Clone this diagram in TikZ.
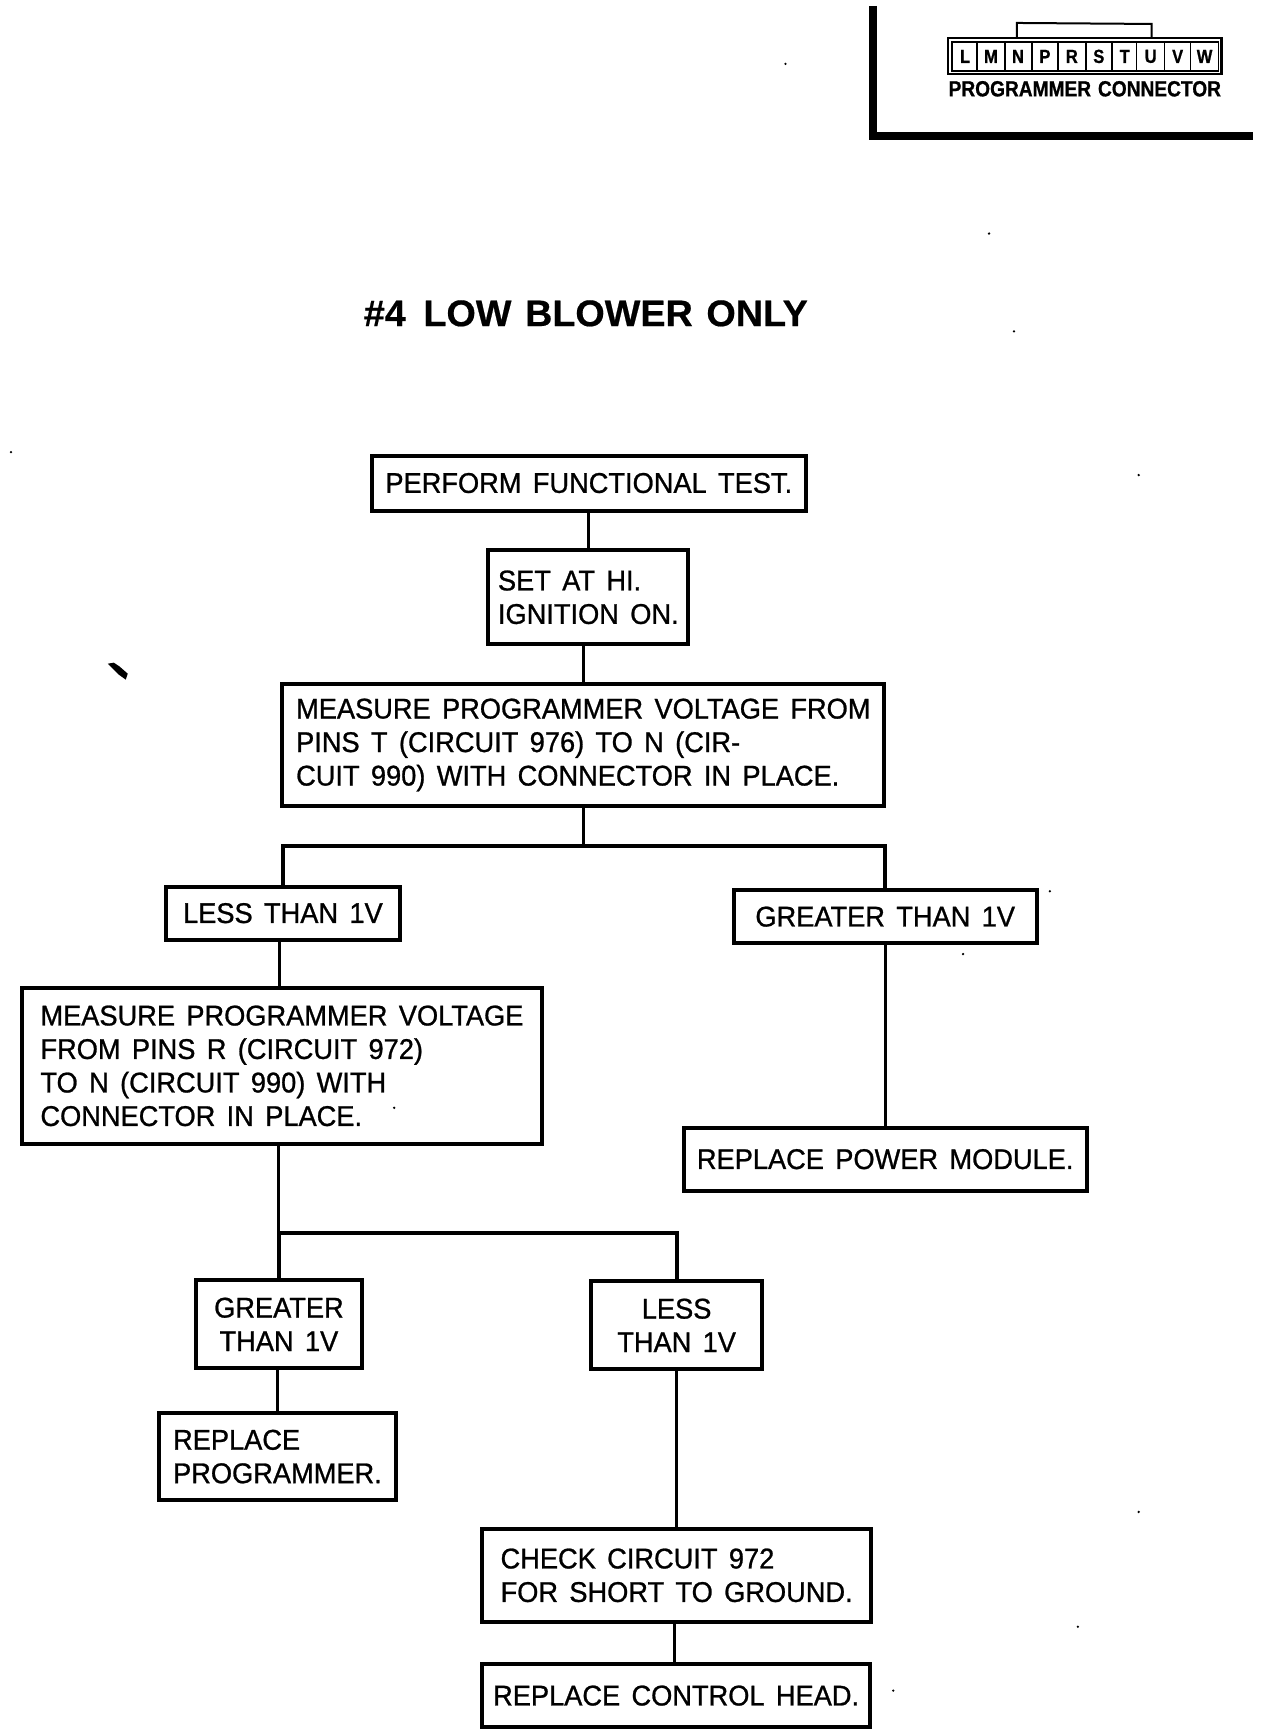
\documentclass[tikz,border=0pt]{standalone}
\usepackage{fontspec}
\setmainfont{Liberation Sans}
\newfontfamily\flowfont[FakeBold=0.9,FakeStretch=0.955,WordSpace=1.5]{Liberation Sans}
\newfontfamily\capfont[FakeBold=0.8,FakeStretch=0.87,WordSpace=1.3]{Liberation Sans Bold}
\newfontfamily\titlefont[FakeBold=0.5,FakeStretch=1.02,WordSpace=1.3]{Liberation Sans Bold}
\begin{document}
\begin{tikzpicture}[x=0.998pt,y=-0.998pt,
  flow/.style={draw=black,line width=4pt,inner sep=0pt,outer sep=0pt,align=left,font=\flowfont\fontsize{28.5}{33.5}\selectfont},
  wire/.style={draw=black,line width=3pt},
  bus/.style={draw=black,line width=4pt},
  thick rule/.style={draw=black,line width=8pt},
  pin/.style={font=\capfont\fontsize{19}{19}\selectfont,inner sep=0pt},
  speck/.style={fill=black,draw=none}]
\useasboundingbox (0,0) rectangle (1266.5,1739.5);
\fill[white] (0,0) rectangle (1266.5,1739.5);
% corner rules
\draw[thick rule] (875,6) -- (875,136.5) -- (1255.5,136.5);
% connector
\draw[draw=black,line width=2.5pt] (950,38) rectangle (1224,74);
\draw[draw=black,line width=1.5pt] (954,42) rectangle (1221,71);
\foreach \p in {979,1007,1034,1060,1088,1114,1139,1167,1193}
  \draw[draw=black,line width=1.5pt] (\p,42) -- (\p,71);
\draw[draw=black,line width=2pt] (1019,37) -- (1019,23) -- (1154,24) -- (1154,37);
\foreach \nm/\cx/\t in {l/967/L,m/993/M,n/1020/N,p/1047/P,r/1074/R,s/1101/S,t/1127/T,u/1153/U,v/1180/V,w/1207/W}
  \node[pin] (pin\nm) at (\cx,56.5) {\t};
\node[font=\capfont\fontsize{22}{22}\selectfont,inner sep=0pt] (cap) at (1087,89) {PROGRAMMER CONNECTOR};
% title
\node[font=\titlefont\fontsize{37}{37}\selectfont,inner sep=0pt] (title) at (587,314) {\#4\hspace{4pt} LOW BLOWER ONLY};
% boxes
\node[flow,minimum width=434pt,minimum height=55pt] (b1) at (590,484) {PERFORM FUNCTIONAL TEST.};
\node[flow,minimum width=200pt,minimum height=94pt] (b2) at (589.5,598.5) {SET AT HI.\\IGNITION ON.};
\node[flow,minimum width=602pt,minimum height=122pt] (b3) at (584.5,746.5) {MEASURE PROGRAMMER VOLTAGE FROM\\PINS T (CIRCUIT 976) TO N (CIR-\hspace{105pt}\mbox{}\\CUIT 990) WITH CONNECTOR IN PLACE.};
\node[flow,minimum width=234pt,minimum height=53pt] (b4) at (283.5,915) {LESS THAN 1V};
\node[flow,minimum width=303pt,minimum height=53pt] (b5) at (887,918.5) {GREATER THAN 1V};
\node[flow,minimum width=520pt,minimum height=156pt] (b6) at (282.5,1068) {MEASURE PROGRAMMER VOLTAGE\\FROM PINS R (CIRCUIT 972)\\TO N (CIRCUIT 990) WITH\\CONNECTOR IN PLACE.};
\node[flow,minimum width=403pt,minimum height=63pt] (b7) at (887,1161.5) {REPLACE POWER MODULE.};
\node[flow,minimum width=166pt,minimum height=88pt,align=center] (b8) at (279.5,1327) {GREATER\\THAN 1V};
\node[flow,minimum width=171pt,minimum height=88pt,align=center] (b9) at (678,1328) {LESS\\THAN 1V};
\node[flow,minimum width=237pt,minimum height=87pt] (b10) at (278,1459.5) {REPLACE\\PROGRAMMER.};
\node[flow,minimum width=389pt,minimum height=93pt] (b11) at (678,1578.5) {CHECK CIRCUIT 972\\FOR SHORT TO GROUND.};
\node[flow,minimum width=388pt,minimum height=63pt] (b12) at (677.5,1699) {REPLACE CONTROL HEAD.};
% junctions
\coordinate (j1) at (b3.south |- 0,848);
\coordinate (j2) at (b8.north |- 0,1235);
% connectors
\draw[wire] (b2.north) -- (b2.north |- b1.south);
\draw[wire] (b3.north) -- (b3.north |- b2.south);
\draw[wire] (b3.south) -- (j1);
\draw[bus] (b4.north) -- (b4.north |- j1) -- (b5.north |- j1) -- (b5.north);
\draw[wire] ([xshift=-2pt]b6.north) -- ([xshift=-2pt]b6.north |- b4.south);
\draw[wire] (b7.north) -- (b7.north |- b5.south);
\draw[wire] (j2 |- b6.south) -- (j2);
\draw[bus] (b8.north) -- (j2) -- (b9.north |- j2) -- (b9.north);
\draw[wire] (b10.north) -- (b10.north |- b8.south);
\draw[wire] (b11.north) -- (b11.north |- b9.south);
\draw[wire] ([xshift=-2pt]b12.north) -- ([xshift=-2pt]b12.north |- b11.south);
% specks
\fill[speck] (108,665) -- (114,664) -- (120,668) -- (128,675) -- (126,681) -- (119,676) -- cycle;
\foreach \sx/\sy in {787/64,991/234,11/453,1141/476,1016/332,1052/893,965/956,395/1110,1141/1515,1080/1630,895/1694}
  \fill[speck] (\sx,\sy) circle (1.3pt);
\end{tikzpicture}
\end{document}
